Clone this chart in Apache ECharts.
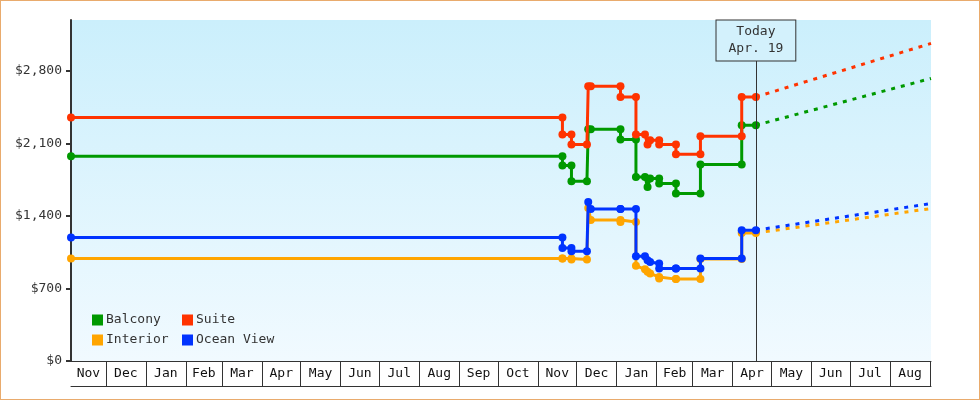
<!DOCTYPE html>
<html>
<head>
<meta charset="utf-8">
<script src="https://cdn.jsdelivr.net/npm/echarts@6/dist/echarts.min.js"></script>
<style>
  html, body { margin: 0; padding: 0; background: #fff; }
  #wrap { position: relative; width: 980px; height: 400px; }
  #chart { position: absolute; left: 0; top: 0; width: 980px; height: 400px; }
  #frame { position: absolute; left: 0; top: 0; width: 980px; height: 400px; box-sizing: border-box; border: 1px solid #e9ab6d; pointer-events: none; }
</style>
</head>
<body>
<div id="wrap"><div id="chart"></div><div id="frame"></div></div>
<script>
// ---- data ----
const monthNames = ['Jan','Feb','Mar','Apr','May','Jun','Jul','Aug','Sep','Oct','Nov','Dec'];
const axisStart = '2017-11-04';
const axisEnd = '2019-09-01 18:00';
const today = '2019-04-19';
const todayLabel = 'Today\nApr. 19';
const yTicks = [0, 700, 1400, 2100, 2800];
const seriesNames = ['Balcony', 'Suite', 'Interior', 'Ocean View'];

const dates = [
  '2017-11-04',
  '2018-11-20', '2018-11-20',
  '2018-11-27', '2018-11-27',
  '2018-12-09', '2018-12-10', '2018-12-12',
  '2019-01-04', '2019-01-04',
  '2019-01-16', '2019-01-16',
  '2019-01-23', '2019-01-25', '2019-01-27',
  '2019-02-03', '2019-02-03',
  '2019-02-16', '2019-02-16',
  '2019-03-07', '2019-03-07',
  '2019-04-08', '2019-04-08',
  '2019-04-19'
];
const balcony   = [1976,1976,1886,1886,1734,1734,2236,2236,2236,2137,2137,1776,1776,1679,1760,1760,1712,1712,1616,1616,1896,1896,2275,2275];
const suite     = [2349,2349,2185,2185,2089,2089,2651,2651,2651,2548,2548,2185,2185,2089,2130,2130,2089,2089,1995,1995,2169,2169,2548,2548];
const interior  = [988,988,988,988,980,980,1477,1360,1360,1342,1342,920,885,860,845,810,795,790,790,790,985,985,1235,1235];
const oceanView = [1191,1191,1091,1091,1059,1059,1535,1466,1466,1466,1466,1011,1011,972,955,940,892,892,892,892,988,988,1262,1262];

const forecastDates = ['2019-04-19', '2019-09-01 18:00'];
const balconyForecast   = [2275, 2726];
const suiteForecast     = [2548, 3064];
const interiorForecast  = [1235, 1471];
const oceanViewForecast = [1262, 1519];

// ---- build ----
function P(s) {
  const m = s.match(/^(\d{4})-(\d{2})-(\d{2})(?:[ T](\d{2}):(\d{2}))?$/);
  return new Date(+m[1], +m[2] - 1, +m[3], m[4] ? +m[4] : 0, m[5] ? +m[5] : 0).getTime();
}
const tMin = P(axisStart), tMax = P(axisEnd);
const DAY = 86400000;

const monthTicks = [];
const monthLabels = [];
{
  const s = new Date(tMin);
  let m = new Date(s.getFullYear(), s.getMonth(), 1);
  while (m.getTime() <= tMax) {
    const next = new Date(m.getFullYear(), m.getMonth() + 1, 1);
    const a = Math.max(m.getTime(), tMin), b = Math.min(next.getTime(), tMax);
    if (b - a > 3 * DAY) monthLabels.push((a + b) / 2);
    if (next.getTime() <= tMax + DAY) monthTicks.push(next.getTime());
    m = next;
  }
}

const colors = ['#009900', '#ff3300', '#ffa500', '#0033ff'];
const mainVals = [balcony, suite, interior, oceanView];
const fcVals = [balconyForecast, suiteForecast, interiorForecast, oceanViewForecast];
const FONT = 'DejaVu Sans Mono';

const series = [];
seriesNames.forEach((name, k) => {
  series.push({
    name, type: 'line', xAxisIndex: 0,
    data: dates.map((d, i) => [P(d), mainVals[k][i]]),
    symbol: 'circle', symbolSize: 8,
    itemStyle: { color: colors[k] },
    lineStyle: { color: colors[k], width: 3 },
    z: 3 + k
  });
});
seriesNames.forEach((name, k) => {
  series.push({
    name, type: 'line', xAxisIndex: 0,
    data: forecastDates.map((d, i) => [P(d), fcVals[k][i]]),
    showSymbol: false, symbol: 'none',
    itemStyle: { color: colors[k] },
    lineStyle: { color: colors[k], width: 3, type: [4, 6] },
    z: 2
  });
});
// Today marker
series.push({
  type: 'line', data: [], xAxisIndex: 0,
  markLine: {
    silent: true, symbol: ['none', 'none'], animation: false,
    lineStyle: { color: '#333', width: 1, type: 'solid' },
    label: {
      show: true, position: 'end', distance: 0,
      formatter: todayLabel,
      color: '#333', fontFamily: FONT, fontSize: 13, lineHeight: 17,
      align: 'center',
      backgroundColor: '#d3f1fc', borderColor: '#333', borderWidth: 1,
      padding: [3, 12]
    },
    data: [[{ coord: [P(today), 0] }, { coord: [P(today), 2900] }]]
  }
});

const chart = echarts.init(document.getElementById('chart'), null, { renderer: 'canvas' });
chart.setOption({
  animation: false,
  color: colors,
  grid: {
    left: 71, right: 49, top: 20, bottom: 39,
    show: true, borderWidth: 0,
    backgroundColor: {
      type: 'linear', x: 0, y: 0, x2: 0, y2: 1,
      colorStops: [{ offset: 0, color: '#cbeffc' }, { offset: 1, color: '#f1faff' }]
    }
  },
  legend: [
    {
      data: ['Balcony', 'Interior'], orient: 'vertical', left: 92, top: 313, padding: 0,
      itemWidth: 11, itemHeight: 11, itemGap: 6, icon: 'rect',
      textStyle: { fontFamily: FONT, fontSize: 13, color: '#333', lineHeight: 14, padding: [0, 0, 0, -2] }
    },
    {
      data: ['Suite', 'Ocean View'], orient: 'vertical', left: 182, top: 313, padding: 0,
      itemWidth: 11, itemHeight: 11, itemGap: 6, icon: 'rect',
      textStyle: { fontFamily: FONT, fontSize: 13, color: '#333', lineHeight: 14, padding: [0, 0, 0, -2] }
    }
  ],
  xAxis: [
    {
      type: 'value', min: tMin, max: tMax, position: 'bottom', scale: true,
      axisLine: { show: true, lineStyle: { color: '#333', width: 1 } },
      axisTick: { show: true, inside: false, length: 25, customValues: monthTicks, lineStyle: { color: '#333', width: 1 } },
      axisLabel: {
        show: true, customValues: monthLabels, margin: 6, hideOverlap: false,
        showMinLabel: true, showMaxLabel: true,
        color: '#111', fontFamily: FONT, fontSize: 13,
        formatter: v => monthNames[new Date(v).getMonth()]
      },
      splitLine: { show: false }, minorTick: { show: false }
    },
    {
      type: 'value', min: tMin, max: tMax, position: 'bottom', offset: 25, scale: true,
      axisLine: { show: true, lineStyle: { color: '#333', width: 1 } },
      axisTick: { show: false }, axisLabel: { show: false }, splitLine: { show: false }
    }
  ],
  yAxis: {
    type: 'value', min: 0, max: 3290,
    axisLine: { show: true, lineStyle: { color: '#333', width: 2 } },
    axisTick: { show: true, length: 5, customValues: yTicks, lineStyle: { color: '#333', width: 2 } },
    axisLabel: {
      customValues: yTicks, margin: 9, color: '#333', fontFamily: FONT, fontSize: 13,
      formatter: v => '$' + Number(v).toLocaleString('en-US')
    },
    splitLine: { show: false }
  },
  series
});
</script>
</body>
</html>
